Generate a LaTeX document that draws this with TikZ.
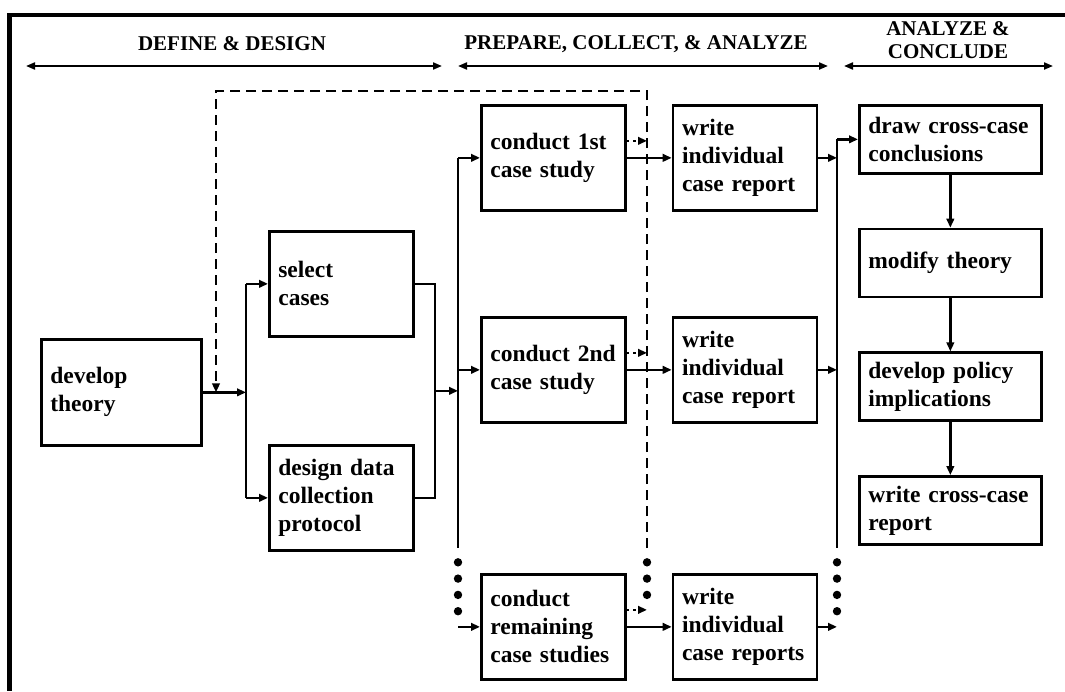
\documentclass[tikz,border=0pt]{standalone}
\usepackage{fontspec}
\setmainfont{Liberation Serif}
\usetikzlibrary{positioning,arrows.meta,calc}

\begin{document}
\begin{tikzpicture}[x=1pt, y=-1pt,
      node distance=45pt and 45pt,
      stage/.style={draw=black, line width=2.7pt, anchor=north west, align=left,
        inner xsep=9pt, inner ysep=0pt, minimum height=105pt,
        font=\fontsize{23.5}{28}\selectfont\bfseries},
      casebox/.style={stage, text width=126pt},
      crossbox/.style={stage, text width=164pt, minimum height=68pt},
      phase/.style={font=\fontsize{21}{23.5}\selectfont\bfseries, align=center},
      link/.style={-{Triangle[length=9pt, width=7.5pt]}, line width=2.3pt},
      flow/.style={line width=2.3pt},
      span/.style={{Triangle[length=9pt, width=7pt]}-{Triangle[length=9pt, width=7pt]}, line width=2pt},
      back/.style={link, dash pattern=on 10pt off 6pt},
      peek/.style={link, dash pattern=on 2.5pt off 4pt}]
    \useasboundingbox (0,0) rectangle (1065,691);
    \draw[line width=4.6pt] (1065,15) -- (9.5,15) -- (9.5,691);

    % phases
    \node[phase] (p1) at (232,44) {DEFINE \& DESIGN};
    \node[phase] (p2) at (636,44) {PREPARE, COLLECT, \& ANALYZE};
    \node[phase] (p3) at (948,40) {ANALYZE \&\\CONCLUDE};
    \coordinate (p1a) at (26,66);  \coordinate (p1b) at (442,66);
    \coordinate (p2a) at (458,66); \coordinate (p2b) at (828,66);
    \coordinate (p3a) at (844,66); \coordinate (p3b) at (1053,66);
    \draw[span] (p1a) -- (p1b);
    \draw[span] (p2a) -- (p2b);
    \draw[span] (p3a) -- (p3b);

    % boxes
    \node[stage, text width=142pt, minimum height=106pt] (theory) at (40,338) {develop\\theory};
    \node[casebox] (sel) at (268,230) {select\\cases};
    \node[casebox] (des) at (268,444) {design data\\collection\\protocol};
    \node[casebox] (c1) at (480,104) {conduct 1st\\case study};
    \node[casebox] (c2) at (480,316) {conduct 2nd\\case study};
    \node[casebox] (c3) at (480,573) {conduct\\remaining\\case studies};
    \node[casebox, right=of c1] (w1) {write\\individual\\case report};
    \node[casebox, right=of c2] (w2) {write\\individual\\case report};
    \node[casebox, right=of c3] (w3) {write\\individual\\case reports};
    \node[crossbox] (x1) at (858,104) {draw cross-case\\conclusions};
    \node[crossbox, below=53pt of x1] (x2) {modify theory};
    \node[crossbox, below=53pt of x2] (x3) {develop policy\\implications};
    \node[crossbox, below=53pt of x3] (x4) {write cross-case\\report};

    % junctions
    \coordinate (b1) at (246,0);
    \coordinate (m1) at (435,0);
    \coordinate (b2) at (458,548);
    \coordinate (dsh) at (647,548);
    \coordinate (b3) at (837,548);
    \coordinate (top) at (0,91);
    \coordinate (fb) at (216,0);

    % define & design
    \draw[link] (theory.east) -- (theory.east -| b1);
    \draw[flow] (b1 |- sel.west) -- (b1 |- des.west);
    \draw[link] (b1 |- sel.west) -- (sel.west);
    \draw[link] (b1 |- des.west) -- (des.west);
    \draw[flow] (sel.east) -- (sel.east -| m1) -- (m1 |- des.east) -- (des.east);
    \coordinate (mid) at ($(m1 |- sel.east)!0.5!(m1 |- des.east)$);
    \draw[link] (mid) -- (mid -| b2);

    % case studies
    \draw[flow] (b2 |- c1.west) -- (b2);
    \draw[link] (b2 |- c1.west) -- (c1.west);
    \draw[link] (b2 |- c2.west) -- (c2.west);
    \draw[link] (b2 |- c3.west) -- (c3.west);
    \foreach \i in {1,2,3} {
      \draw[link] (c\i.east) -- (w\i.east -| w\i.west);
      \path ([yshift=17pt]c\i.east) coordinate (o\i);
      \draw[peek] (o\i) -- (o\i -| dsh);
    }
    \draw[back] (dsh) -- (dsh |- top) -- (fb |- top) -- (theory.east -| fb);

    % cross-case
    \draw[flow] (b3 |- x1.west) -- (b3);
    \draw[link] (b3 |- x1.west) -- (x1.west);
    \foreach \i in {1,2,3}
      \draw[link] (w\i.east) -- (w\i.east -| b3);
    \draw[link] (x1.south) -- (x2.north);
    \draw[link] (x2.south) -- (x3.north);
    \draw[link] (x3.south) -- (x4.north);

    % dots
    \foreach \x/\n in {458/4, 647/3, 837/4}
      \foreach \k in {1,...,\n}
        \fill (\x, 546+16.3*\k) circle (4.2pt);
  \end{tikzpicture}
\end{document}
